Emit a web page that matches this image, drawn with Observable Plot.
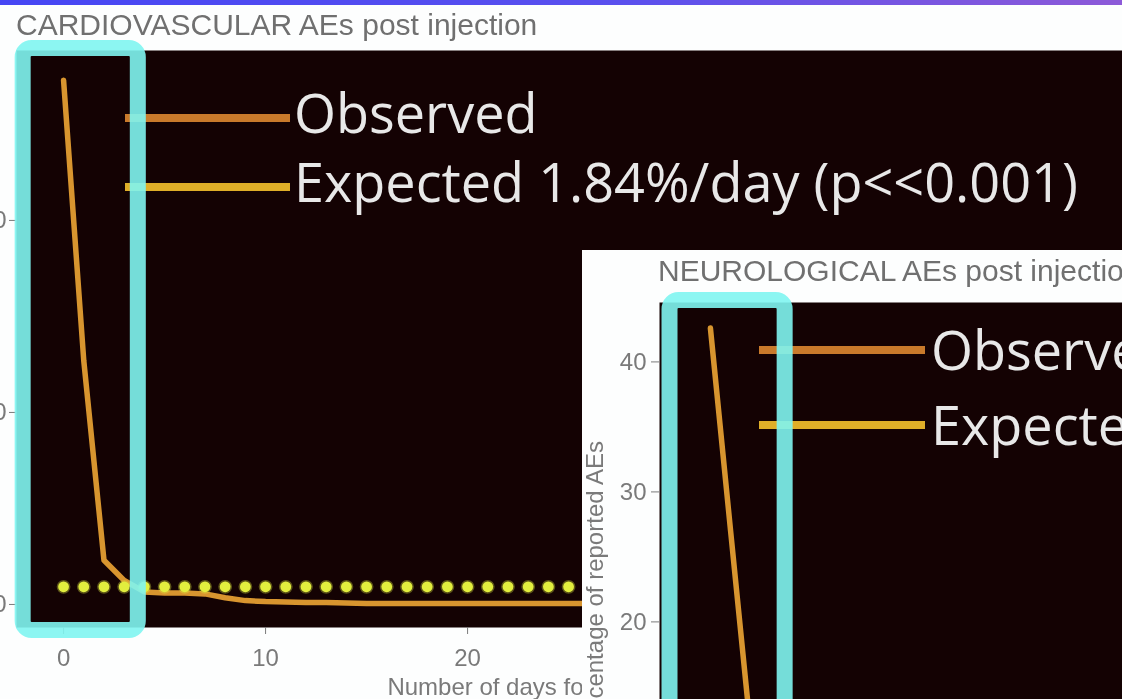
<!DOCTYPE html>
<html>
<head>
<meta charset="utf-8">
<script src="https://cdn.jsdelivr.net/npm/d3@7"></script>
<script src="https://cdn.jsdelivr.net/npm/@observablehq/plot@0.6"></script>
<style>
  html, body { margin: 0; padding: 0; width: 1122px; height: 699px; overflow: hidden; background: #fdfefe; }
  #stage { position: absolute; left: 0; top: 0; width: 1122px; height: 699px; overflow: hidden; filter: blur(0.75px); }
  #topbar { position: absolute; left: 0; top: 0; width: 1122px; height: 5px;
            background: linear-gradient(90deg, #4646f4 0%, #5a50ee 55%, #8d5ad8 100%); }
  .title { position: absolute; font-family: "Liberation Sans", Arial, sans-serif; font-size: 30px;
           line-height: 30px; color: #707070; white-space: nowrap; }
  #t1 { left: 16px; top: 10px; }
  #p1 { position: absolute; left: 0; top: 40px; }
  #c2 { position: absolute; left: 582px; top: 250px; width: 560px; height: 460px; background: #fdfefe; overflow: hidden; }
  #t2 { left: 76px; top: 6px; }
  #p2 { position: absolute; left: 0; top: 42px; }
</style>
</head>
<body>
<div id="stage">
  <div id="topbar"></div>
  <div id="t1" class="title"></div>
  <div id="p1"></div>
  <div id="c2">
    <div id="t2" class="title"></div>
    <div id="p2"></div>
  </div>
</div>
<script>
// ---------------- data ----------------
const titles = ["CARDIOVASCULAR AEs post injection", "NEUROLOGICAL AEs post injection"];
const xLabel = "Number of days following injection";
const yLabel = "Percentage of reported AEs";

// Cardiovascular: observed % of reported AEs per day after injection
const days1 = [0,1,2,3,4,5,6,7,8,9,10,11,12,13,14,15,16,17,18,19,20,21,22,23,24,25,26,27,28,29,30];
const observed1 = [54.6,25.4,4.6,2.5,1.3,1.2,1.2,1.1,0.7,0.4,0.3,0.25,0.2,0.2,0.15,0.1,0.1,0.1,0.1,0.1,0.1,0.1,0.1,0.1,0.1,0.1,0.1,0.1,0.1,0.1,0.1];
// Cardiovascular: expected 1.84 %/day
const expectedDays1 = [0,1,2,3,4,5,6,7,8,9,10,11,12,13,14,15,16,17,18,19,20,21,22,23,24,25,26,27,28,29,30,31,32,33,34,35,36,37,38,39,40,41,42,43,44,45,46,47,48,49,50,51,52];
const expected1 = [1.84,1.84,1.84,1.84,1.84,1.84,1.84,1.84,1.84,1.84,1.84,1.84,1.84,1.84,1.84,1.84,1.84,1.84,1.84,1.84,1.84,1.84,1.84,1.84,1.84,1.84,1.84,1.84,1.84,1.84,1.84,1.84,1.84,1.84,1.84,1.84,1.84,1.84,1.84,1.84,1.84,1.84,1.84,1.84,1.84,1.84,1.84,1.84,1.84,1.84,1.84,1.84,1.84];

// Neurological: observed (visible part)
const days2 = [0,1,2];
const observed2 = [42.6,27.0,11.5];

const xTicks1 = [0,10,20,30,40,50];
const yTicks1 = [0,20,40];
const xTicks2 = [0,10,20];
const yTicks2 = [0,10,20,30,40];

const seriesNames = ["Observed", "Expected"];
const legendLabels1 = ["Observed", "Expected 1.84%/day (p<<0.001)"];
const legendLabels2 = ["Observed", "Expected"];
const highlightWindow = [{start: -2, end: 3.7}];

// ---------------- styles ----------------
const C = {
  panel: "#140203",
  observed: "#d8952f",
  expectedDot: "#e2ee3e",
  legendObserved: "#c97a2b",
  legendExpected: "#dfae28",
  cyan: "#80f5f1",
  legendText: "#e8e8e8",
  axis: "#7a7a7a"
};
const legendColors = [C.legendObserved, C.legendExpected];

function legendMark(labels, o) {
  return (index, scales, values, dims) => {
    const g = d3.create("svg:g");
    labels.forEach((lab, i) => {
      const y = dims.marginTop + o.ys[i];
      g.append("line")
        .attr("x1", dims.marginLeft + o.x1).attr("x2", dims.marginLeft + o.x2)
        .attr("y1", y).attr("y2", y)
        .attr("stroke", legendColors[i]).attr("stroke-width", 8);
      g.append("text")
        .attr("x", dims.marginLeft + o.tx).attr("y", y + o.shift)
        .attr("fill", C.legendText)
        .attr("text-anchor", "start")
        .attr("font-family", "'Open Sans', sans-serif")
        .attr("font-size", o.fontSize)
        .text(lab);
    });
    return g.node();
  };
}

document.getElementById("t1").textContent = titles[0];
document.getElementById("t2").textContent = titles[1];

const obs1 = days1.map((d, i) => ({day: d, value: observed1[i], series: seriesNames[0]}));
const exp1 = expectedDays1.map((d, i) => ({day: d, value: expected1[i], series: seriesNames[1]}));
const obs2 = days2.map((d, i) => ({day: d, value: observed2[i], series: seriesNames[0]}));

// ---------------- chart 1 ----------------
const chart1 = Plot.plot({
  width: 1122, height: 659,
  marginTop: 10, marginBottom: 72, marginLeft: 16, marginRight: 0,
  style: {color: C.axis, background: "transparent", fontFamily: "'Liberation Sans', Arial, sans-serif", fontSize: "24px", overflow: "visible"},
  x: {domain: [-2.33, 52.42]},
  y: {domain: [-2.4, 57.7]},
  marks: [
    Plot.frame({fill: C.panel, stroke: "none"}),
    Plot.axisX(xTicks1, {tickSize: 7, tickPadding: 14, fontSize: 24, label: null}),
    Plot.axisY(yTicks1, {tickSize: 7, tickPadding: 3, fontSize: 24, label: null}),
    Plot.text([xLabel], {frameAnchor: "bottom", lineAnchor: "middle", dy: 60, fontSize: 24, fill: C.axis}),
    Plot.line(obs1, {x: "day", y: "value", stroke: C.observed, strokeWidth: 5.5, strokeLinejoin: "round"}),
    Plot.dot(exp1, {x: "day", y: "value", r: 5.4, fill: C.expectedDot, stroke: C.expectedDot, strokeOpacity: 0.35, strokeWidth: 3}),
    legendMark(legendLabels1, {x1: 109, x2: 274, tx: 278, ys: [68, 137], shift: 15, fontSize: 54}),
    Plot.rect(highlightWindow, {x1: "start", x2: "end", fill: "none", stroke: C.cyan, strokeWidth: 16, strokeOpacity: 0.9, rx: 9, insetTop: -2, insetBottom: -3})
  ]
});
document.getElementById("p1").appendChild(chart1);

// ---------------- chart 2 ----------------
const chart2 = Plot.plot({
  width: 560, height: 658,
  marginTop: 10, marginBottom: 40, marginLeft: 77, marginRight: 0,
  style: {color: C.axis, background: "transparent", fontFamily: "'Liberation Sans', Arial, sans-serif", fontSize: "24px", overflow: "visible"},
  x: {domain: [-2.52, 21.39]},
  y: {domain: [-2.2, 44.57]},
  marks: [
    Plot.frame({fill: C.panel, stroke: "none"}),
    Plot.axisX(xTicks2, {tickSize: 7, tickPadding: 14, fontSize: 24, label: null}),
    Plot.axisY(yTicks2, {tickSize: 8, tickPadding: 5, fontSize: 24, label: null}),
    Plot.text([yLabel], {frameAnchor: "left", textAnchor: "middle", lineAnchor: "middle", dx: -64, dy: -18, rotate: -90, fontSize: 24, fill: C.axis}),
    Plot.line(obs2, {x: "day", y: "value", stroke: C.observed, strokeWidth: 5.5, strokeLinejoin: "round"}),
    legendMark(legendLabels2, {x1: 100, x2: 266, tx: 272, ys: [48, 123], shift: 20, fontSize: 54}),
    Plot.rect(highlightWindow, {x1: "start", x2: "end", fill: "none", stroke: C.cyan, strokeWidth: 16, strokeOpacity: 0.9, rx: 9, insetTop: -2, insetBottom: -3})
  ]
});
document.getElementById("p2").appendChild(chart2);
</script>
</body>
</html>
